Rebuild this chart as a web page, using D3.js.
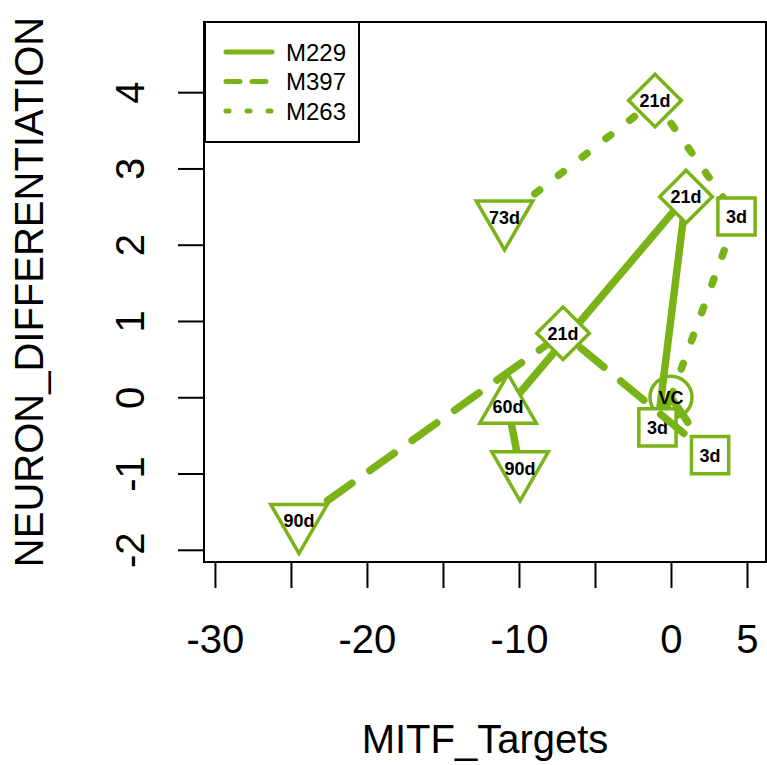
<!DOCTYPE html>
<html>
<head>
<meta charset="utf-8">
<script src="https://cdn.jsdelivr.net/npm/d3@7"></script>
<style>
  body { margin: 0; background: #fff; }
  svg { display: block; font-family: "Liberation Sans", Arial, sans-serif; }
</style>
</head>
<body>
<div id="chart"></div>
<script>
// series names and their time points
var seriesNames = ["M229", "M397", "M263"];
var m229Labels = ["VC", "3d", "21d", "60d", "90d"];
var m229X = [0, -0.89, 0.99, -10.72, -9.93];
var m229Y = [0, -0.395, 2.63, -0.125, -0.93];
var m397Labels = ["VC", "3d", "21d", "90d"];
var m397X = [0, 2.57, -7.1, -24.47];
var m397Y = [0, -0.76, 0.84, -1.62];
var m263Labels = ["VC", "3d", "21d", "73d"];
var m263X = [0, 4.31, -1.05, -10.95];
var m263Y = [0, 2.37, 3.89, 2.36];

var xTicks = [-30, -25, -20, -15, -10, -5, 0, 5];
var xTickLabels = ["-30", "", "-20", "", "-10", "", "0", "5"];
var yTicks = [-2, -1, 0, 1, 2, 3, 4];
var yTickLabels = ["-2", "-1", "0", "1", "2", "3", "4"];

var W = 767, H = 765;
var green = "#7ab317";
var dashes = ["none", "30,22", "6,24"];   // solid, dashed, dotted (round caps)
var legendDashes = ["none", "14,12", "3,18"];

var svg = d3.select("#chart").append("svg").attr("width", W).attr("height", H);

var x = d3.scaleLinear().domain([-30.72, 6.25]).range([204, 766]);
var y = d3.scaleLinear().domain([-2.16, 4.92]).range([562, 22]);

// axes
var xAxis = d3.axisBottom(x).tickValues(xTicks).tickSize(26).tickSizeOuter(0)
  .tickFormat(function(d, i) { return xTickLabels[i]; });
var gx = svg.append("g").attr("transform", "translate(0,562)").call(xAxis);
gx.select(".domain").remove();
gx.selectAll("line").attr("stroke", "#000").attr("stroke-width", 2);
gx.selectAll("text").attr("font-size", 40).attr("fill", "#000").attr("font-family", "Liberation Sans, Arial, sans-serif")
  .attr("y", 0).attr("dy", 0).attr("transform", "translate(0,91)");

var yAxis = d3.axisLeft(y).tickValues(yTicks).tickSize(26).tickSizeOuter(0)
  .tickFormat(function(d, i) { return yTickLabels[i]; });
var gy = svg.append("g").attr("transform", "translate(204,0)").call(yAxis);
gy.select(".domain").remove();
gy.selectAll("line").attr("stroke", "#000").attr("stroke-width", 2);
gy.selectAll("text").attr("font-size", 40).attr("fill", "#000").attr("font-family", "Liberation Sans, Arial, sans-serif")
  .attr("x", 0).attr("dy", 0).attr("text-anchor", "middle")
  .attr("transform", "translate(-60,0) rotate(-90)");

// plot box
svg.append("rect").attr("x", 204).attr("y", 22).attr("width", 562).attr("height", 540)
  .attr("fill", "none").attr("stroke", "#000").attr("stroke-width", 2);

// axis titles
svg.append("text").attr("x", 485).attr("y", 753).attr("text-anchor", "middle")
  .attr("font-size", 40).text("MITF_Targets");
svg.append("text").attr("transform", "translate(43,292) rotate(-90)").attr("text-anchor", "middle")
  .attr("font-size", 40).text("NEURON_DIFFERENTIATION");

// markers, sized like R's pch 21-25
var R = 21;
function shapePath(label) {
  if (label === "VC") { var p = d3.path(); p.arc(0, 0, R, 0, 2 * Math.PI); p.closePath(); return p.toString(); }
  if (label === "3d") { var s = R * 0.886; return "M" + (-s) + "," + (-s) + "H" + s + "V" + s + "H" + (-s) + "Z"; }
  if (label === "21d") { var d = R * 1.253; return "M0," + (-d) + "L" + d + ",0L0," + d + "L" + (-d) + ",0Z"; }
  var r = R * 1.555, xc = R * 1.347, yc = R * 0.778;
  if (label === "60d") return "M0," + (-r) + "L" + xc + "," + yc + "L" + (-xc) + "," + yc + "Z";
  return "M0," + r + "L" + xc + "," + (-yc) + "L" + (-xc) + "," + (-yc) + "Z";
}

function drawMarks(labels, xs, ys, from, withShape, withText) {
  for (var i = from; i < labels.length; i++) {
    var g = svg.append("g").attr("transform", "translate(" + x(xs[i]) + "," + y(ys[i]) + ")");
    if (withShape) g.append("path").attr("d", shapePath(labels[i])).attr("fill", "#fff")
      .attr("stroke", green).attr("stroke-width", 3.5);
    if (withText) g.append("text").attr("text-anchor", "middle").attr("dy", "0.36em")
      .attr("font-size", 18).attr("font-weight", "bold").attr("fill", "#000").text(labels[i]);
  }
}

var allLabels = [m229Labels, m397Labels, m263Labels];
var allX = [m229X, m397X, m263X];
var allY = [m229Y, m397Y, m263Y];

// shared VC circle first
drawMarks(m229Labels.slice(0, 1), m229X, m229Y, 0, true, false);

var line = d3.line().x(function(d) { return x(d[0]); }).y(function(d) { return y(d[1]); });
seriesNames.forEach(function(name, k) {
  var pts = allX[k].map(function(v, i) { return [v, allY[k][i]]; });
  svg.append("path").datum(pts).attr("d", line).attr("fill", "none")
    .attr("stroke", green).attr("stroke-width", 7.5)
    .attr("stroke-linecap", "round").attr("stroke-linejoin", "round")
    .attr("stroke-dasharray", dashes[k]);
  drawMarks(allLabels[k], allX[k], allY[k], 1, true, true);
});

// VC text on top
drawMarks(m229Labels.slice(0, 1), m229X, m229Y, 0, false, true);

// legend
var lg = svg.append("g");
lg.append("rect").attr("x", 205).attr("y", 22).attr("width", 154).attr("height", 120)
  .attr("fill", "#fff").attr("stroke", "#000").attr("stroke-width", 2);
seriesNames.forEach(function(name, k) {
  var ly = 52 + k * 29.5;
  lg.append("line").attr("x1", 226).attr("x2", 272).attr("y1", ly).attr("y2", ly)
    .attr("stroke", green).attr("stroke-width", 5).attr("stroke-linecap", "round")
    .attr("stroke-dasharray", legendDashes[k]);
  lg.append("text").attr("x", 286).attr("y", ly).attr("dy", "0.36em")
    .attr("font-size", 24).attr("fill", "#000").text(name);
});
</script>
</body>
</html>
